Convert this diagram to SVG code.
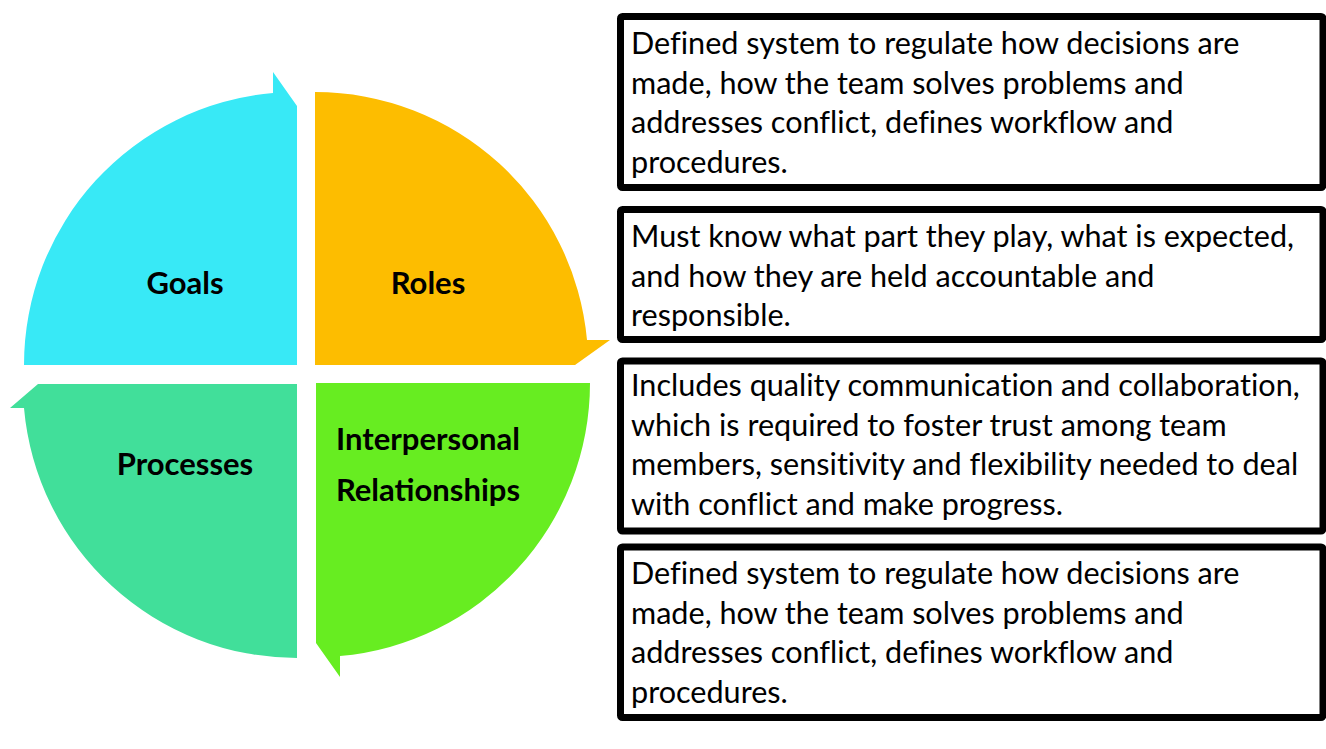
<svg xmlns="http://www.w3.org/2000/svg" width="1326" height="749" viewBox="0 0 1326 749">
<style>
.lbl{font-family:Lato,"Open Sans","Liberation Sans",sans-serif;font-weight:bold;font-size:31px;fill:#000;text-anchor:middle}
.box{fill:#fff;stroke:#000;stroke-width:7}
.txt{font-family:Lato,"Open Sans","Liberation Sans",sans-serif;font-size:30.6px;fill:#000;font-variant-ligatures:none}
</style>
<rect width="1326" height="749" fill="#fff"/>
<g id="goals">
<path d="M297,365 L24,365 A273,273 0 0 1 273,93 L273,72 L297,106 Z" fill="#38E9F6"/>
<text class="lbl" x="185" y="294">Goals</text>
</g>
<g id="roles">
<path d="M315,365 L315,92 A273,273 0 0 1 587,340 L610,340 L575,365 Z" fill="#FDBD00"/>
<text class="lbl" x="428" y="294">Roles</text>
</g>
<g id="processes">
<path d="M297,384 L297,658 A274,274 0 0 1 24,408 L10,408 L38,384 Z" fill="#41DF9A"/>
<text class="lbl" x="185" y="475">Processes</text>
</g>
<g id="interpersonal">
<path d="M316,383 L590,383 A274,274 0 0 1 340,656 L340,677 L316,643 Z" fill="#67ED21"/>
<text class="lbl" x="428" y="450">Interpersonal</text>
<text class="lbl" x="428" y="501">Relationships</text>
</g>
<g id="connectors"></g>
<g id="box1">
<rect class="box" x="620.5" y="16.5" width="702.5" height="171" rx="2"/>
<text class="txt" x="631" y="54">Defined system to regulate how decisions are</text>
<text class="txt" x="631" y="93.5">made, how the team solves problems and</text>
<text class="txt" x="631" y="133">addresses conflict, defines workflow and</text>
<text class="txt" x="631" y="172.5">procedures.</text>
</g>
<g id="box2">
<rect class="box" x="620.5" y="209.5" width="702.5" height="130" rx="2"/>
<text class="txt" x="631" y="247">Must know what part they play, what is expected,</text>
<text class="txt" x="631" y="286.5">and how they are held accountable and</text>
<text class="txt" x="631" y="326">responsible.</text>
</g>
<g id="box3">
<rect class="box" x="620.5" y="361" width="702.5" height="170" rx="2"/>
<text class="txt" x="631" y="396">Includes quality communication and collaboration,</text>
<text class="txt" x="631" y="435.5">which is required to foster trust among team</text>
<text class="txt" x="631" y="475">members, sensitivity and flexibility needed to deal</text>
<text class="txt" x="631" y="514.5">with conflict and make progress.</text>
</g>
<g id="box4">
<rect class="box" x="620.5" y="547" width="702.5" height="170.5" rx="2"/>
<text class="txt" x="631" y="584">Defined system to regulate how decisions are</text>
<text class="txt" x="631" y="623.5">made, how the team solves problems and</text>
<text class="txt" x="631" y="663">addresses conflict, defines workflow and</text>
<text class="txt" x="631" y="702.5">procedures.</text>
</g>
</svg>
